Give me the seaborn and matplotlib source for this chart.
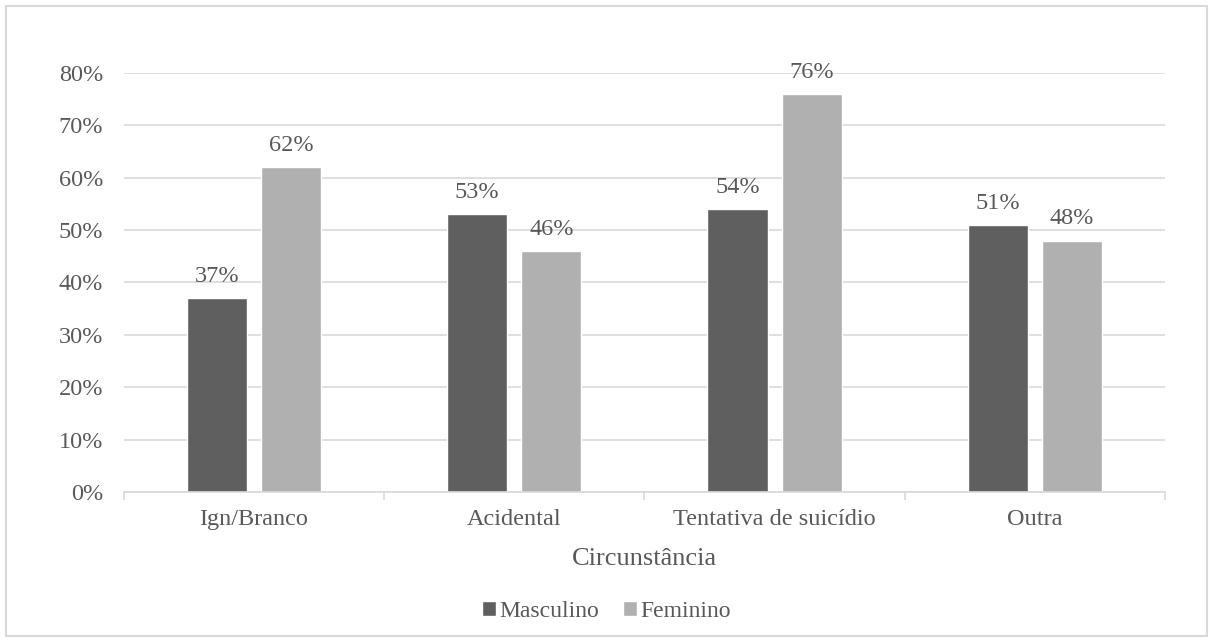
import pandas as pd
import matplotlib.pyplot as plt
import seaborn as sns
from matplotlib.patches import Rectangle
from matplotlib.ticker import FixedLocator, PercentFormatter

categorias = ['Ign/Branco', 'Acidental', 'Tentativa de suicídio', 'Outra']
masculino = [37, 53, 54, 51]
feminino = [62, 46, 76, 48]
sexos = ['Masculino', 'Feminino']

df = pd.DataFrame({
    'Circunstância': categorias * 2,
    'Sexo': [sexos[0]] * 4 + [sexos[1]] * 4,
    'Valor': masculino + feminino,
})

sns.set_style('white')
plt.rcParams['font.family'] = ['Liberation Serif', 'DejaVu Serif']
txt = '#595959'
grid = '#d9d9d9'

fig = plt.figure(figsize=(12.13, 6.41), dpi=100)
ax = fig.add_axes([0.1022, 0.2325, 0.8582, 0.6536])

sns.barplot(data=df, x='Circunstância', y='Valor', hue='Sexo',
            palette=['#5f5f5f', '#b0b0b0'], width=0.57, gap=0.19,
            saturation=1, ax=ax, legend=True)

ax.set_ylim(0, 80)
ax.set_xlim(-0.5, 3.5)
ax.set_yticks(range(0, 81, 10))
ax.yaxis.set_major_formatter(PercentFormatter(decimals=0))
ax.yaxis.grid(True, color=grid, linewidth=1.2)
ax.set_axisbelow(True)
for s in ['top', 'right', 'left']:
    ax.spines[s].set_visible(False)
ax.spines['bottom'].set_color(grid)
ax.spines['bottom'].set_linewidth(1.2)

ax.tick_params(axis='y', length=0, labelsize=17.5, labelcolor=txt, pad=15)
ax.tick_params(axis='x', which='major', length=0, labelsize=17.5,
               labelcolor=txt, pad=12)
ax.xaxis.set_minor_locator(FixedLocator([-0.5, 0.5, 1.5, 2.5, 3.5]))
ax.tick_params(axis='x', which='minor', bottom=True, length=6,
               color=grid, width=1.2)

ax.set_ylabel('')
ax.set_xlabel('Circunstância', fontsize=19, color=txt, labelpad=13)

for cont in ax.containers:
    ax.bar_label(cont, fmt='%g%%', padding=8, fontsize=17.5, color=txt)

handles, labels = ax.get_legend_handles_labels()
ax.legend(handles, labels, loc='center', bbox_to_anchor=(0.5, 0.046),
          bbox_transform=fig.transFigure, ncol=2, frameon=False,
          fontsize=17, labelcolor=txt, handlelength=0.6, handleheight=0.6,
          handletextpad=0.15, columnspacing=1.0)

fig.patches.append(Rectangle((6 / 1213, 5 / 641), 1201 / 1213, 630 / 641,
                             transform=fig.transFigure, fill=False,
                             edgecolor=grid, linewidth=1.5))

fig.savefig('out.png', dpi=100)
